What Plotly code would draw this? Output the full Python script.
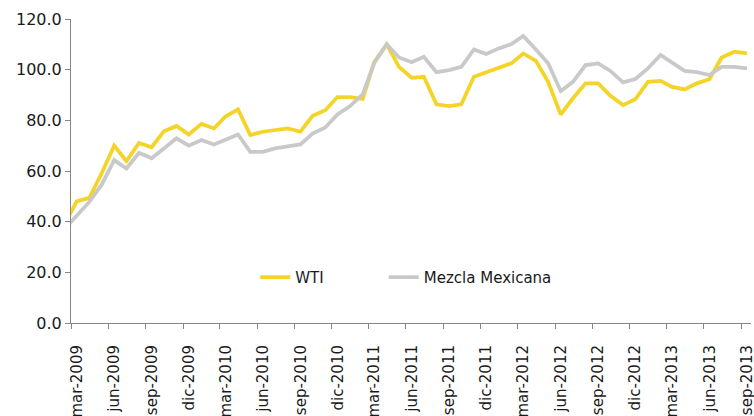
import pandas as pd
import plotly.graph_objects as go

# monthly averages, feb-2009 .. sep-2013 (usd per barrel)
months = pd.date_range("2009-02-01", "2013-09-01", freq="MS") + pd.Timedelta(days=14)

wti = [
    39.5, 48.0, 49.4, 59.0, 70.0, 63.9, 71.1, 69.4, 75.7, 77.8, 74.4,
    78.6, 76.8, 81.5, 84.3, 74.2, 75.5, 76.1, 76.8, 75.5, 81.8, 84.0, 89.2,
    89.2, 88.5, 103.0, 110.0, 101.1, 96.8, 97.2, 86.3, 85.6, 86.3, 97.2, 98.9,
    100.9, 102.5, 106.4, 103.5, 95.2, 82.3, 88.7, 94.6, 94.6, 89.7, 86.0, 88.3,
    95.2, 95.6, 93.2, 92.2, 94.6, 96.2, 104.8, 107.1, 106.4,
]

mezcla = [
    37.4, 42.5, 47.8, 54.5, 64.3, 61.0, 67.2, 65.0, 68.9, 72.9, 70.0,
    72.2, 70.5, 72.2, 74.4, 67.6, 67.6, 68.9, 69.8, 70.5, 74.8, 77.2, 82.3,
    85.6, 90.3, 102.5, 110.0, 104.8, 102.9, 105.1, 99.0, 99.8, 101.1, 108.0, 106.2,
    108.4, 110.1, 113.3, 108.0, 102.5, 91.5, 95.2, 101.8, 102.5, 99.5, 95.0, 96.3,
    100.5, 105.8, 102.8, 99.5, 99.0, 97.9, 101.1, 101.1, 100.5,
]

tick_labels = [
    "mar-2009", "jun-2009", "sep-2009", "dic-2009",
    "mar-2010", "jun-2010", "sep-2010", "dic-2010",
    "mar-2011", "jun-2011", "sep-2011", "dic-2011",
    "mar-2012", "jun-2012", "sep-2012", "dic-2012",
    "mar-2013", "jun-2013", "sep-2013",
]
tick_dates = pd.date_range("2009-03-01", periods=len(tick_labels), freq="3MS")

font = "DejaVu Sans"
axis_col = "#868686"

fig = go.Figure()
fig.add_trace(go.Scatter(
    x=months, y=wti, name="WTI", mode="lines",
    line=dict(color="#F5D327", width=3.75), legend="legend",
))
fig.add_trace(go.Scatter(
    x=months, y=mezcla, name="Mezcla Mexicana", mode="lines",
    line=dict(color="#C9C9C9", width=3.75), legend="legend2",
))

leg = dict(orientation="h", y=0.15, xanchor="left", yanchor="middle",
           bgcolor="rgba(0,0,0,0)", font=dict(size=15))

fig.update_layout(
    width=754, height=416,
    margin=dict(l=71, r=3, t=19, b=93),
    paper_bgcolor="white", plot_bgcolor="white",
    font=dict(family=font, size=16, color="#1a1a1a"),
    showlegend=True,
    legend=dict(leg, x=0.271),
    legend2=dict(leg, x=0.46),
)
fig.update_xaxes(
    type="date", range=["2009-03-01", "2013-09-25"],
    tickvals=tick_dates, ticktext=tick_labels, tickangle=-90,
    tickfont=dict(size=15), ticklabelshift=6, ticklabelstandoff=10,
    automargin=False, ticklabeloverflow="allow",
    showgrid=False, zeroline=False,
    showline=True, linecolor=axis_col, linewidth=1,
    ticks="outside", ticklen=5, tickcolor=axis_col,
)
fig.update_yaxes(
    range=[0, 120], dtick=20, tickformat=".1f", automargin=False,
    showgrid=False, zeroline=False,
    showline=True, linecolor=axis_col, linewidth=1,
    ticks="outside", ticklen=5, tickcolor=axis_col,
)

# drop the browser's default body margin so the figure sits at 0,0
fig.write_html("out.html", config={"displayModeBar": False},
               post_script="document.body.style.margin='0';")
